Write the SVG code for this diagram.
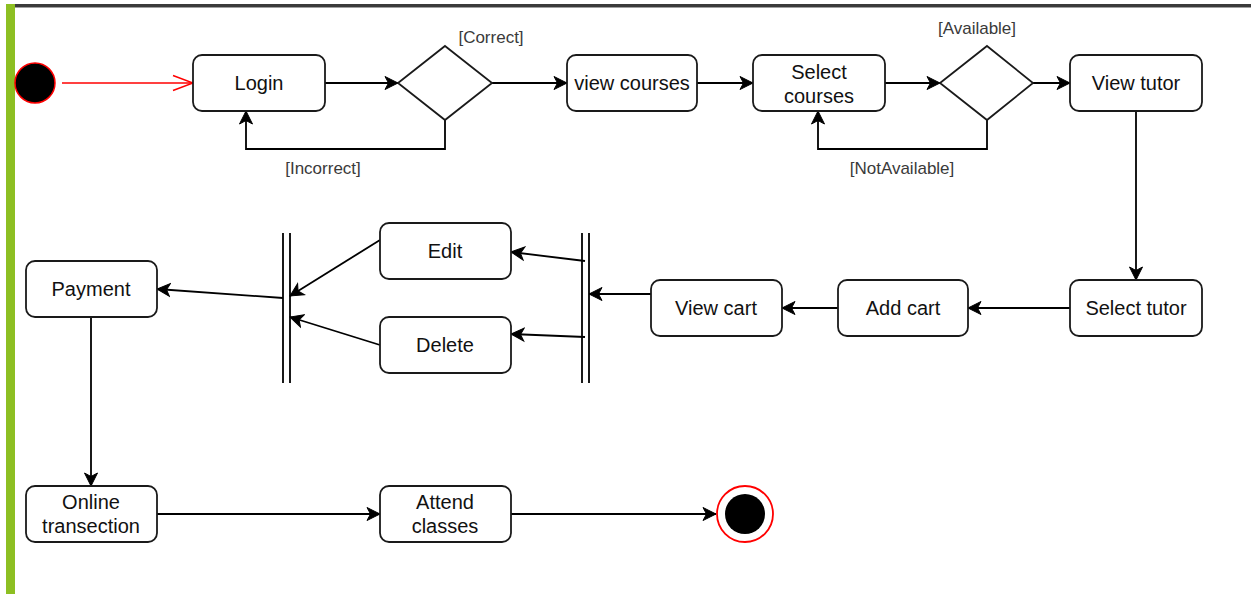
<svg xmlns="http://www.w3.org/2000/svg" width="1251" height="594" viewBox="0 0 1251 594">
  <style>
    .node { fill: #ffffff; stroke: #1a1a1a; stroke-width: 1.8; }
    .dec { fill: #ffffff; stroke: #1a1a1a; stroke-width: 1.8; }
    .lbl { font-family: "Liberation Sans", Arial, sans-serif; font-size: 20px; fill: #111111; text-anchor: middle; dominant-baseline: central; }
    .guard { font-family: "Liberation Sans", Arial, sans-serif; font-size: 17px; fill: #3a3a3a; text-anchor: middle; dominant-baseline: central; }
    .edge { fill: none; stroke: #000000; stroke-width: 1.8; marker-end: url(#arrow); }
    .bar { stroke: #000000; stroke-width: 1.8; }
  </style>
  <defs>
    <marker id="arrow" markerUnits="userSpaceOnUse" markerWidth="18" markerHeight="18" viewBox="-1 -9 18 18" refX="13" refY="0" orient="auto">
      <path d="M0,-6.5 L13,0 L0,6.5 L3.5,0 z" fill="#000000" stroke="#000000" stroke-width="1"/>
    </marker>
    <marker id="open" markerUnits="userSpaceOnUse" markerWidth="24" markerHeight="20" viewBox="-2 -10 24 20" refX="20" refY="0" orient="auto">
      <path d="M0,-7.5 L20,0 L0,7.5" fill="none" stroke="#ff0000" stroke-width="1.5"/>
    </marker>
  </defs>

  <!-- page frame -->
  <rect x="0" y="0" width="1251" height="594" fill="#ffffff"/>
  <rect x="15" y="4" width="1236" height="3" fill="#3b3b3b"/>
  <rect x="15" y="7" width="1236" height="1" fill="#a0a0a0"/>
  <rect x="6" y="4" width="9" height="590" fill="#8dbf22"/>

  <!-- connectors -->
  <g id="connectors">
    <line x1="62" y1="83" x2="193" y2="83" stroke="#ff0000" stroke-width="1.5" marker-end="url(#open)"/>
    <line class="edge" x1="325" y1="83" x2="398" y2="83"/>
    <line class="edge" x1="492" y1="83" x2="567" y2="83"/>
    <polyline class="edge" points="445,120 445,149 246,149 246,111"/>
    <line class="edge" x1="697" y1="83" x2="753" y2="83"/>
    <line class="edge" x1="885" y1="83" x2="940" y2="83"/>
    <line class="edge" x1="1033" y1="83" x2="1070" y2="83"/>
    <polyline class="edge" points="987,120 987,149 818,149 818,111"/>
    <line class="edge" x1="1136" y1="111" x2="1136" y2="280"/>
    <line class="edge" x1="1070" y1="308" x2="968" y2="308"/>
    <line class="edge" x1="838" y1="308" x2="782" y2="308"/>
    <line class="edge" x1="651" y1="294" x2="589" y2="294"/>
    <line class="edge" x1="585" y1="261" x2="511" y2="252"/>
    <line class="edge" x1="585" y1="337" x2="511" y2="334"/>
    <line class="edge" x1="380" y1="240" x2="290" y2="296"/>
    <line class="edge" x1="380" y1="345" x2="290" y2="317"/>
    <line class="edge" x1="283" y1="298" x2="157" y2="289"/>
    <line class="edge" x1="91" y1="317" x2="91" y2="486"/>
    <line class="edge" x1="157" y1="514" x2="380" y2="514"/>
    <line class="edge" x1="511" y1="514" x2="716" y2="514"/>
    <text class="guard" x="491" y="37">[Correct]</text>
    <text class="guard" x="323" y="168">[Incorrect]</text>
    <text class="guard" x="977" y="28">[Available]</text>
    <text class="guard" x="902" y="168">[NotAvailable]</text>
  </g>

  <!-- start -->
  <g id="start">
    <circle cx="35" cy="83" r="20" fill="#000000" stroke="#ff0000" stroke-width="1.5"/>
  </g>

  <g id="login">
    <rect class="node" x="193" y="55" width="132" height="56" rx="9"/>
    <text class="lbl" x="259" y="83">Login</text>
  </g>

  <g id="decision-login">
    <polygon class="dec" points="445,46 492,83 445,120 398,83"/>
  </g>

  <g id="view-courses">
    <rect class="node" x="567" y="55" width="130" height="56" rx="9"/>
    <text class="lbl" x="632" y="83">view courses</text>
  </g>

  <g id="select-courses">
    <rect class="node" x="753" y="55" width="132" height="56" rx="9"/>
    <text class="lbl" x="819" y="72">Select</text>
    <text class="lbl" x="819" y="96">courses</text>
  </g>

  <g id="decision-available">
    <polygon class="dec" points="987,46 1033,83 987,120 940,83"/>
  </g>

  <g id="view-tutor">
    <rect class="node" x="1070" y="55" width="132" height="56" rx="9"/>
    <text class="lbl" x="1136" y="83">View tutor</text>
  </g>

  <g id="select-tutor">
    <rect class="node" x="1070" y="280" width="132" height="56" rx="9"/>
    <text class="lbl" x="1136" y="308">Select tutor</text>
  </g>

  <g id="add-cart">
    <rect class="node" x="838" y="280" width="130" height="56" rx="9"/>
    <text class="lbl" x="903" y="308">Add cart</text>
  </g>

  <g id="view-cart">
    <rect class="node" x="651" y="280" width="131" height="56" rx="9"/>
    <text class="lbl" x="716" y="308">View cart</text>
  </g>

  <g id="fork">
    <line class="bar" x1="582" y1="233" x2="582" y2="383"/>
    <line class="bar" x1="589" y1="233" x2="589" y2="383"/>
  </g>

  <g id="edit">
    <rect class="node" x="380" y="223" width="131" height="56" rx="9"/>
    <text class="lbl" x="445" y="251">Edit</text>
  </g>

  <g id="delete">
    <rect class="node" x="380" y="317" width="131" height="56" rx="9"/>
    <text class="lbl" x="445" y="345">Delete</text>
  </g>

  <g id="join">
    <line class="bar" x1="283" y1="233" x2="283" y2="383"/>
    <line class="bar" x1="290" y1="233" x2="290" y2="383"/>
  </g>

  <g id="payment">
    <rect class="node" x="26" y="261" width="131" height="56" rx="9"/>
    <text class="lbl" x="91" y="289">Payment</text>
  </g>

  <g id="online-transection">
    <rect class="node" x="26" y="486" width="131" height="56" rx="9"/>
    <text class="lbl" x="91" y="502">Online</text>
    <text class="lbl" x="91" y="526">transection</text>
  </g>

  <g id="attend-classes">
    <rect class="node" x="380" y="486" width="131" height="56" rx="9"/>
    <text class="lbl" x="445" y="502">Attend</text>
    <text class="lbl" x="445" y="526">classes</text>
  </g>

  <!-- final -->
  <g id="end">
    <circle cx="745" cy="514" r="28" fill="#ffffff" stroke="#ff0000" stroke-width="1.8"/>
    <circle cx="745" cy="514" r="20" fill="#000000"/>
  </g>
</svg>
